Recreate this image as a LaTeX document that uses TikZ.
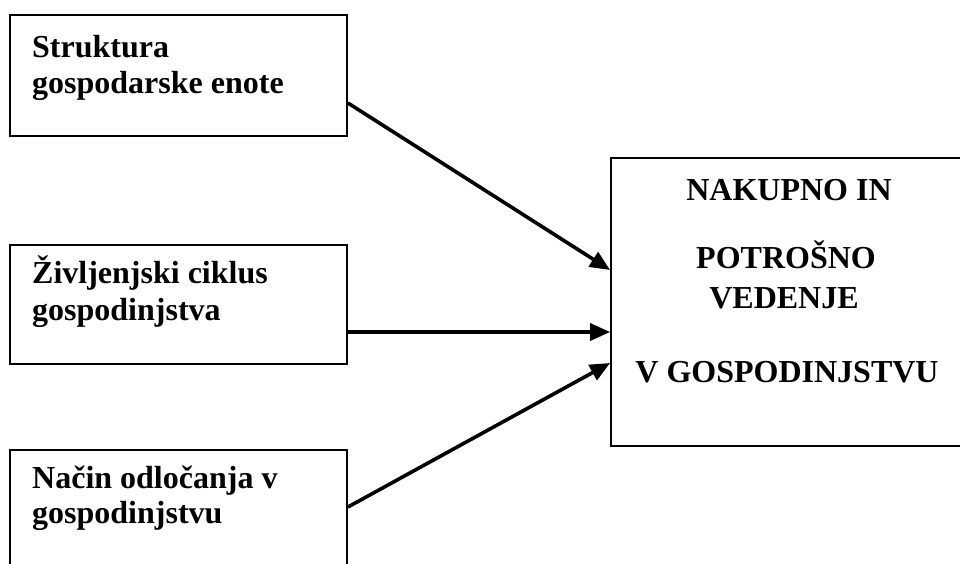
\documentclass[tikz,border=0pt]{standalone}
\usepackage{fontspec}
\setmainfont{Liberation Serif}
\usetikzlibrary{arrows.meta}
\begin{document}
\begin{tikzpicture}[x=1pt,y=-1pt,
  box/.style={draw=black,line width=1.8pt,rectangle,inner sep=0pt},
  lbl/.style={font=\fontsize{32}{36}\selectfont\bfseries,inner sep=0pt},
  arr/.style={line width=3.6pt,-{Triangle[length=20pt,width=17pt]}}]
\useasboundingbox (0,0) rectangle (960,563);
\clip (0,0) rectangle (960,563);
\fill[white] (0,0) rectangle (960,563);
\node[box,minimum width=337pt,minimum height=121pt] (b1) at (178.5,75.5) {};
\node[box,minimum width=337pt,minimum height=119pt] (b2) at (178.5,304.5) {};
\node[box,minimum width=337pt,minimum height=130pt] (b3) at (178.5,515) {};
\node[box,minimum width=356pt,minimum height=288pt] (r) at (789,302) {};
\node[lbl,anchor=base west] (t1a) at (32,57) {Struktura};
\node[lbl,anchor=base west] (t1b) at (32,93) {gospodarske enote};
\node[lbl,anchor=base west] (t2a) at (32,283) {Življenjski ciklus};
\node[lbl,anchor=base west] (t2b) at (32,320) {gospodinjstva};
\node[lbl,anchor=base west] (t3a) at (32,488) {Način odločanja v};
\node[lbl,anchor=base west] (t3b) at (32,523) {gospodinjstvu};
\node[lbl,anchor=base] (r1) at (789,200) {NAKUPNO IN};
\node[lbl,anchor=base] (r2) at (786,268) {POTROŠNO};
\node[lbl,anchor=base] (r3) at (784,308) {VEDENJE};
\node[lbl,anchor=base] (r4) at (787,382) {V GOSPODINJSTVU};
\draw[arr] ([yshift=-27.5pt]b1.east) -- ([yshift=32pt]r.west);
\draw[arr] ([yshift=-27.5pt]b2.east) -- ([yshift=-30pt]r.west);
\draw[arr] ([yshift=8pt]b3.east) -- ([yshift=-61pt]r.west);
\end{tikzpicture}
\end{document}
